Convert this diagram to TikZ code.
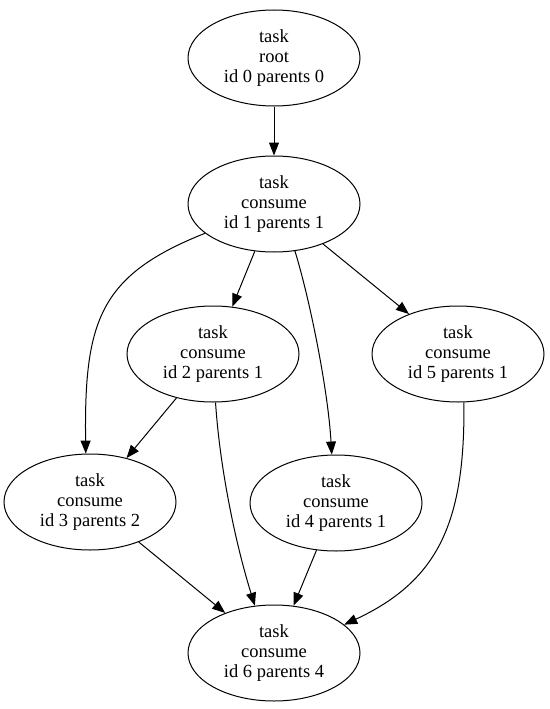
\documentclass[tikz,border=0pt]{standalone}
\usepackage{fontspec}
\setmainfont{Liberation Serif}
\usetikzlibrary{shapes.geometric,arrows.meta}
\tikzset{
  task/.style={draw, ellipse, line width=1pt, minimum width=172pt, minimum height=96pt,
    inner sep=0pt, align=center, font=\fontsize{18.5}{20}\selectfont},
  link/.style={line width=1pt, -{Triangle[length=13pt,width=10pt]}}
}
\begin{document}
\begin{tikzpicture}[x=1pt,y=-1pt]
  \useasboundingbox (0,0) rectangle (549,709);
  \node[task] (n0) at (274,58)  {task\\root\\id 0 parents 0};
  \node[task] (n1) at (274,204) {task\\consume\\id 1 parents 1};
  \node[task] (n2) at (213,354) {task\\consume\\id 2 parents 1};
  \node[task] (n5) at (458,354) {task\\consume\\id 5 parents 1};
  \node[task] (n3) at (90,502)  {task\\consume\\id 3 parents 2};
  \node[task] (n4) at (336,503) {task\\consume\\id 4 parents 1};
  \node[task] (n6) at (274,653) {task\\consume\\id 6 parents 4};

  \draw[link] (n0) -- (n1);
  \draw[link] (n1) -- (n2);
  \draw[link] (n1) -- (n5);
  \draw[link] (n1.203) .. controls (100,275) and (84,320) .. (n3.95);
  \draw[link] (n1.294) .. controls (310,300) and (328,390) .. (n4.95);
  \draw[link] (n2) -- (n3);
  \draw[link] (n2.273) .. controls (220,470) and (236,545) .. (n6.112);
  \draw[link] (n3) -- (n6);
  \draw[link] (n4) -- (n6);
  \draw[link] (n5.277) .. controls (465,520) and (440,580) .. (n6.22);
\end{tikzpicture}
\end{document}
